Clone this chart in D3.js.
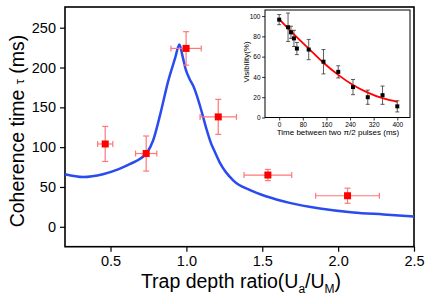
<!DOCTYPE html>
<html>
<head>
<meta charset="utf-8">
<script src="https://cdn.jsdelivr.net/npm/d3@7"></script>
<style>
  body { margin: 0; background: #fff; }
  svg { display: block; font-family: "Liberation Sans", Arial, sans-serif; }
</style>
</head>
<body>
<div id="chart"></div>
<script>
// main plot: measured coherence times
const ratio = [0.465, 0.735, 0.998, 1.21, 1.537, 2.062];
const ratioErr = [0.05, 0.07, 0.1, 0.12, 0.157, 0.21];
const tau = [104, 92, 224, 138, 65, 39];
const tauErr = [22, 22, 21, 22, 7, 9.5];

// theory curve
const curveX = [0.2, 0.32, 0.45, 0.55, 0.63, 0.7, 0.74, 0.78, 0.83, 0.88, 0.926, 0.954,
  0.975, 0.995, 1.02, 1.045, 1.07, 1.1, 1.135, 1.16, 1.19, 1.222, 1.31, 1.42, 1.53, 1.68, 1.88, 2.1, 2.3, 2.5];
const curveY = [66, 62.5, 66, 72, 79, 86, 93, 108, 143, 183, 212, 229,
  214, 198, 186, 177, 164, 145, 121, 106, 93, 80, 58, 46, 38, 30, 23, 18, 15.5, 13];

// inset: visibility vs delay
const delay = [0, 30, 40, 50, 60, 100, 150, 200, 250, 300, 350, 400];
const visibility = [96.5, 89, 84, 78, 68, 67, 55, 45, 30, 20, 22, 11];
const visErr = [5, 14, 6, 8, 6, 10, 12, 6, 7.5, 7, 9, 5.5];
const fitT = [0, 50, 100, 150, 200, 250, 300, 350, 400];
const fitV = [97, 82, 68, 54, 42, 32, 24.5, 19, 15.5];

const xTicks = [0.5, 1.0, 1.5, 2.0, 2.5];
const yTicks = [0, 50, 100, 150, 200, 250];
const insetXTicks = [0, 80, 160, 240, 320, 400];
const insetYTicks = [0, 20, 40, 60, 80, 100];

const width = 436, height = 304;
const svg = d3.select("#chart").append("svg")
  .attr("width", width).attr("height", height);

// ---- main plot ----
const x = d3.scaleLinear().domain([0.2, 2.5]).range([65, 414]);
const y = d3.scaleLinear().domain([-25, 276]).range([246.7, 7]);

const xAxis = svg.append("g").attr("transform", "translate(0,246.7)")
  .call(d3.axisBottom(x).tickValues(xTicks).tickFormat(d3.format(".1f")).tickSize(5).tickPadding(4));
const yAxis = svg.append("g").attr("transform", "translate(65,0)")
  .call(d3.axisLeft(y).tickValues(yTicks).tickSize(5).tickPadding(4));
[xAxis, yAxis].forEach(a => {
  a.select(".domain").remove();
  a.selectAll("line").attr("stroke", "#000").attr("stroke-width", 1.2);
  a.selectAll("text").attr("font-size", 14.5).attr("fill", "#000")
    .attr("font-family", "Liberation Sans, Arial, sans-serif");
});

svg.append("rect")
  .attr("x", 65).attr("y", 7).attr("width", 414 - 65).attr("height", 246.7 - 7)
  .attr("fill", "none").attr("stroke", "#000").attr("stroke-width", 1.6);

// theory line
const line = d3.line().x((d, i) => x(curveX[i])).y(d => y(d)).curve(d3.curveMonotoneX);
svg.append("path").datum(curveY)
  .attr("d", line).attr("fill", "none")
  .attr("stroke", "#2a4bef").attr("stroke-width", 2.5);

// error bars
const errCol = "#f77";
const eb = svg.append("g").attr("stroke", errCol).attr("stroke-width", 1.2);
ratio.forEach((r, i) => {
  const cx = x(r), cy = y(tau[i]);
  const x0 = x(r - ratioErr[i]), x1 = x(r + ratioErr[i]);
  const y0 = y(tau[i] - tauErr[i]), y1 = y(tau[i] + tauErr[i]);
  eb.append("line").attr("x1", x0).attr("x2", x1).attr("y1", cy).attr("y2", cy);
  eb.append("line").attr("x1", x0).attr("x2", x0).attr("y1", cy - 3).attr("y2", cy + 3);
  eb.append("line").attr("x1", x1).attr("x2", x1).attr("y1", cy - 3).attr("y2", cy + 3);
  eb.append("line").attr("x1", cx).attr("x2", cx).attr("y1", y0).attr("y2", y1);
  eb.append("line").attr("x1", cx - 3).attr("x2", cx + 3).attr("y1", y0).attr("y2", y0);
  eb.append("line").attr("x1", cx - 3).attr("x2", cx + 3).attr("y1", y1).attr("y2", y1);
});
svg.append("g").selectAll("rect").data(ratio).join("rect")
  .attr("x", (d) => x(d) - 3.5).attr("y", (d, i) => y(tau[i]) - 3.5)
  .attr("width", 7).attr("height", 7).attr("fill", "#f00");

// axis titles
const xt = svg.append("text").attr("x", 241).attr("y", 288)
  .attr("text-anchor", "middle").attr("font-size", 19.5).attr("fill", "#000");
xt.append("tspan").text("Trap depth ratio(U");
xt.append("tspan").text("a").attr("font-size", 12).attr("dy", 5);
xt.append("tspan").text("/U").attr("dy", -5);
xt.append("tspan").text("M").attr("font-size", 12).attr("dy", 5);
xt.append("tspan").text(")").attr("dy", -5);

const yt = svg.append("text").attr("transform", "translate(24,131) rotate(-90)")
  .attr("text-anchor", "middle").attr("font-size", 19.5).attr("fill", "#000");
yt.append("tspan").text("Coherence time ");
yt.append("tspan").text("τ").attr("font-size", 13);
yt.append("tspan").text(" (ms)");

// ---- inset ----
const ix = d3.scaleLinear().domain([-48, 443]).range([265, 410]);
const iy = d3.scaleLinear().domain([0, 106]).range([117.5, 10]);
const inset = svg.append("g");

const ixAxis = inset.append("g").attr("transform", "translate(0,117.5)")
  .call(d3.axisBottom(ix).tickValues(insetXTicks).tickSize(3).tickPadding(2));
const iyAxis = inset.append("g").attr("transform", "translate(265,0)")
  .call(d3.axisLeft(iy).tickValues(insetYTicks).tickSize(3).tickPadding(1.5));
[ixAxis, iyAxis].forEach(a => {
  a.select(".domain").remove();
  a.selectAll("line").attr("stroke", "#000").attr("stroke-width", 0.8);
  a.selectAll("text").attr("font-size", 6.5).attr("fill", "#000")
    .attr("font-family", "Liberation Sans, Arial, sans-serif");
});
inset.append("rect")
  .attr("x", 265).attr("y", 10).attr("width", 410 - 265).attr("height", 117.5 - 10)
  .attr("fill", "none").attr("stroke", "#000").attr("stroke-width", 1);

const ieb = inset.append("g").attr("stroke", "#333").attr("stroke-width", 0.8);
delay.forEach((t, i) => {
  const cx = ix(t);
  const y0 = iy(visibility[i] - visErr[i]), y1 = iy(visibility[i] + visErr[i]);
  ieb.append("line").attr("x1", cx).attr("x2", cx).attr("y1", y0).attr("y2", y1);
  ieb.append("line").attr("x1", cx - 2).attr("x2", cx + 2).attr("y1", y0).attr("y2", y0);
  ieb.append("line").attr("x1", cx - 2).attr("x2", cx + 2).attr("y1", y1).attr("y2", y1);
});

const fitLine = d3.line().x((d, i) => ix(fitT[i])).y(d => iy(d)).curve(d3.curveMonotoneX);
inset.append("path").datum(fitV).attr("d", fitLine)
  .attr("fill", "none").attr("stroke", "#f00").attr("stroke-width", 1.8);

inset.append("g").selectAll("rect").data(delay).join("rect")
  .attr("x", d => ix(d) - 2).attr("y", (d, i) => iy(visibility[i]) - 2)
  .attr("width", 4).attr("height", 4).attr("fill", "#000");

inset.append("text").attr("x", 338).attr("y", 134.5)
  .attr("text-anchor", "middle").attr("font-size", 8).attr("fill", "#000")
  .text("Time between two π/2 pulses (ms)");
inset.append("text").attr("transform", "translate(249,62) rotate(-90)")
  .attr("text-anchor", "middle").attr("font-size", 8).attr("fill", "#000")
  .text("Visibility(%)");
</script>
</body>
</html>
